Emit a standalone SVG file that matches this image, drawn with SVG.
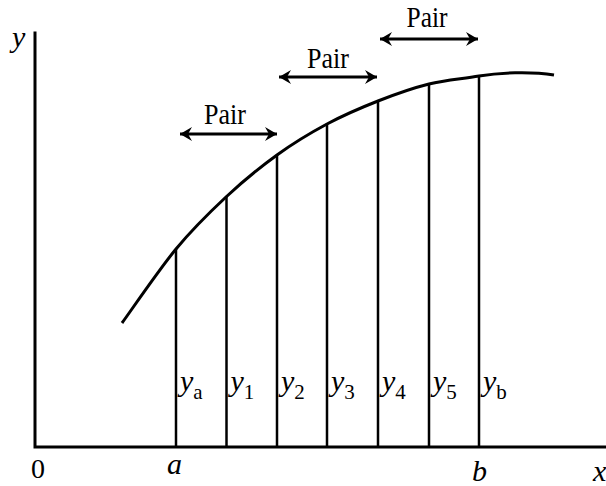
<svg xmlns="http://www.w3.org/2000/svg" width="606" height="486" viewBox="0 0 606 486">
<style>
.ax{fill:none;stroke:#000;stroke-width:3;stroke-linecap:square}
.curve{fill:none;stroke:#000;stroke-width:3}
.ord{stroke:#000;stroke-width:2.5}
.arr{stroke:#000;stroke-width:3;marker-start:url(#ah);marker-end:url(#ah)}
text{font-family:"Liberation Serif","Times New Roman",serif;fill:#000}
.it{font-style:italic;font-size:30px}
.sub{font-style:normal;font-size:21px}
.pair{font-size:30px;text-anchor:middle}
.num{font-size:28px;text-anchor:middle}
</style>
<defs>
<marker id="ah" viewBox="-13 -8 14 16" refX="0" refY="0" markerWidth="14" markerHeight="16" markerUnits="userSpaceOnUse" orient="auto-start-reverse">
<path d="M0,0 L-12,-7 L-8,0 L-12,7 Z" fill="#000"/>
</marker>
</defs>
<g id="axes">
<path class="ax" d="M35,33 V447 H606"/>
<text class="it" x="12" y="47">y</text>
<text class="num" x="38" y="478">0</text>
<text class="it" x="167" y="474">a</text>
<text class="it" x="472" y="481">b</text>
<text class="it" x="593" y="481">x</text>
</g>
<g id="curve">
<path class="curve" d="M122,323 C131,310.7 158.7,270 176,249 C193.3,228 209.2,212.7 226,197 C242.8,181.3 260.2,167.2 277,155 C293.8,142.8 310.2,133 327,124 C343.8,115 361,107.7 378,101 C395,94.3 412.2,88.2 429,84 C445.8,79.8 462.3,78.9 479,76 C499,72.6 530,71 554,75"/>
</g>
<g id="ordinates">
<line class="ord" x1="176" y1="249" x2="176" y2="447"/>
<line class="ord" x1="226.5" y1="197" x2="226.5" y2="447"/>
<line class="ord" x1="277" y1="155" x2="277" y2="447"/>
<line class="ord" x1="327" y1="124" x2="327" y2="447"/>
<line class="ord" x1="378" y1="101" x2="378" y2="447"/>
<line class="ord" x1="429" y1="84" x2="429" y2="447"/>
<line class="ord" x1="479" y1="76" x2="479" y2="447"/>
</g>
<g id="labels">
<text class="it" x="180" y="391">y<tspan class="sub" dy="8">a</tspan></text>
<text class="it" x="230.5" y="391">y<tspan class="sub" dy="8">1</tspan></text>
<text class="it" x="281" y="391">y<tspan class="sub" dy="8">2</tspan></text>
<text class="it" x="331" y="391">y<tspan class="sub" dy="8">3</tspan></text>
<text class="it" x="382" y="391">y<tspan class="sub" dy="8">4</tspan></text>
<text class="it" x="433" y="391">y<tspan class="sub" dy="8">5</tspan></text>
<text class="it" x="483" y="391">y<tspan class="sub" dy="8">b</tspan></text>
</g>
<g id="pairs">
<line class="arr" x1="180" y1="134" x2="277" y2="134"/>
<text class="pair" x="225" y="124" textLength="42" lengthAdjust="spacingAndGlyphs">Pair</text>
<line class="arr" x1="279" y1="77" x2="377" y2="77"/>
<text class="pair" x="328" y="68" textLength="42" lengthAdjust="spacingAndGlyphs">Pair</text>
<line class="arr" x1="380" y1="39" x2="478" y2="39"/>
<text class="pair" x="427" y="27" textLength="41" lengthAdjust="spacingAndGlyphs">Pair</text>
</g>
</svg>
